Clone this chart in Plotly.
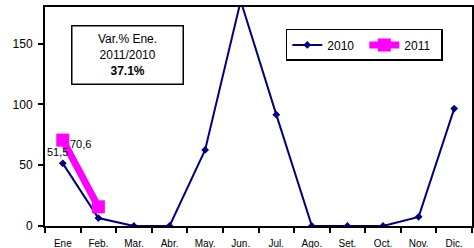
import plotly.graph_objects as go

months = ["Ene", "Feb.", "Mar.", "Abr.", "May.", "Jun.", "Jul.", "Ago.", "Set.", "Oct.", "Nov.", "Dic."]
v2010 = [51.5, 6.5, 0, 0, 62.5, 185, 91.5, 0, 0, 0, 7.5, 96.5]
v2011 = [70.6, 15.8]
lbl2010 = "51,5"
lbl2011 = "70,6"

FONT = "Liberation Sans, Arial, sans-serif"

fig = go.Figure()
fig.add_trace(go.Scatter(
    x=months, y=v2010, name="2010", mode="lines+markers",
    line=dict(color="#000080", width=2),
    marker=dict(symbol="diamond", size=6, color="#000080"),
))
fig.add_trace(go.Scatter(
    x=months[:2], y=v2011, name="2011", mode="lines+markers",
    line=dict(color="#FF00FF", width=7),
    marker=dict(symbol="square", size=13, color="#FF00FF"),
))
# invisible helper trace so the label axis (x2) renders its month labels
fig.add_trace(go.Scatter(
    x=list(range(len(months))), y=v2010, xaxis="x2", mode="markers",
    marker=dict(size=1, opacity=0), showlegend=False, hoverinfo="skip",
))

fig.add_annotation(x=months[0], y=v2010[0], xref="x", yref="y", text=lbl2010,
                   showarrow=False, xanchor="center", yanchor="bottom", xshift=-5, yshift=3,
                   font=dict(size=11, color="black", family=FONT))
fig.add_annotation(x=months[0], y=v2011[0], xref="x", yref="y", text=lbl2011,
                   showarrow=False, xanchor="left", yanchor="middle", xshift=5, yshift=-4,
                   font=dict(size=11, color="black", family=FONT))

fig.add_annotation(
    xref="paper", yref="paper", x=0.193, y=0.78, xanchor="center", yanchor="middle",
    text="Var.% Ene.<br>2011/2010<br><b>37.1%</b>",
    showarrow=False, align="center",
    font=dict(size=12, color="black", family=FONT),
    bordercolor="black", borderwidth=1.5, borderpad=2,
    bgcolor="white", width=106, height=53,
)

fig.update_layout(
    width=474, height=248,
    margin=dict(l=45, r=2, t=7, b=22, autoexpand=False),
    plot_bgcolor="white", paper_bgcolor="white",
    font=dict(family=FONT, size=12, color="black"),
    showlegend=True,
    legend=dict(
        orientation="h", x=0.564, y=0.9, xanchor="left", yanchor="top",
        bordercolor="black", borderwidth=1.5, bgcolor="white",
        font=dict(size=12, family=FONT), entrywidth=32,
    ),
    xaxis=dict(
        type="category", range=[-0.5, 11.5], showline=True, linecolor="black",
        linewidth=2, mirror=True, ticks="outside", tickson="boundaries",
        ticklen=5, tickcolor="black", tickwidth=2, showgrid=False,
        showticklabels=False, automargin=False,
    ),
    xaxis2=dict(
        overlaying="x", anchor="y", side="bottom", type="linear",
        range=[-0.5, 11.5], tickmode="array", tickvals=list(range(len(months))),
        ticktext=months, ticks="outside", ticklen=8, tickcolor="rgba(0,0,0,0)",
        showline=False, showgrid=False, zeroline=False, tickangle=0,
        tickfont=dict(size=10, family=FONT), automargin=False,
    ),
    yaxis=dict(
        range=[0, 180], tickvals=[0, 50, 100, 150], showline=True,
        linecolor="black", linewidth=2, mirror=True, ticks="outside",
        ticklen=5, tickcolor="black", tickwidth=2, showgrid=False,
        zeroline=False, tickfont=dict(size=12, family=FONT), automargin=False,
        ticklabelstandoff=3,
    ),
)

fig.write_html("out.html", config={"displayModeBar": False},
               post_script="document.body.style.margin='0';document.body.style.padding='0';")
